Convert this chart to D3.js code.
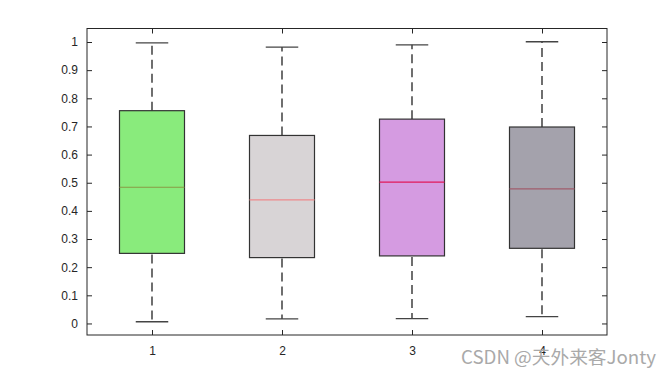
<!DOCTYPE html>
<html><head><meta charset="utf-8">
<script src="https://cdn.jsdelivr.net/npm/d3@7"></script>
<style>body{margin:0;background:#fff}svg{display:block}</style>
</head><body>
<svg id="c" width="672" height="378"></svg>
<script>
const categories = ["1","2","3","4"];
const whiskerLow  = [0.006, 0.016, 0.017, 0.024];
const q1          = [0.249, 0.234, 0.240, 0.267];
const median      = [0.484, 0.439, 0.502, 0.478];
const q3          = [0.756, 0.668, 0.726, 0.698];
const whiskerHigh = [0.997, 0.982, 0.990, 1.001];
const boxColors    = ["#89eb7c", "#d8d4d6", "#d59be1", "#a4a2ac"];
const medianColors = ["#8a9a45", "#ee8a8c", "#e0185a", "#a05c6c"];
const yTicks = [0,0.1,0.2,0.3,0.4,0.5,0.6,0.7,0.8,0.9,1];

const svg = d3.select("#c");
const L=87, R=607, T=28.5, B=335;
const x = d3.scaleLinear().domain([0.5,4.5]).range([L,R]);
const y = d3.scaleLinear().domain([-0.041,1.048]).range([B,T]);
const step = x(2)-x(1), bw = step/2, cw = step/4;

const g = svg.append("g");
categories.forEach((c,i)=>{
  const cx = x(i+1);
  g.append("line").attr("x1",cx).attr("x2",cx).attr("y1",y(q3[i])).attr("y2",y(whiskerHigh[i]))
    .attr("stroke","#222").attr("stroke-width",1.3).attr("stroke-dasharray","9,5");
  g.append("line").attr("x1",cx).attr("x2",cx).attr("y1",y(q1[i])+1).attr("y2",y(whiskerLow[i]))
    .attr("stroke","#222").attr("stroke-width",1.3).attr("stroke-dasharray","9,5");
  g.append("line").attr("x1",cx-cw/2).attr("x2",cx+cw/2).attr("y1",y(whiskerHigh[i])).attr("y2",y(whiskerHigh[i]))
    .attr("stroke","#444").attr("stroke-width",1.3);
  g.append("line").attr("x1",cx-cw/2).attr("x2",cx+cw/2).attr("y1",y(whiskerLow[i])).attr("y2",y(whiskerLow[i]))
    .attr("stroke","#444").attr("stroke-width",1.3);
  g.append("rect").attr("x",cx-bw/2).attr("y",y(q3[i])).attr("width",bw).attr("height",y(q1[i])-y(q3[i]))
    .attr("fill",boxColors[i]).attr("stroke","#333").attr("stroke-width",1.2);
  g.append("line").attr("x1",cx-bw/2).attr("x2",cx+bw/2).attr("y1",y(median[i])).attr("y2",y(median[i]))
    .attr("stroke",medianColors[i]).attr("stroke-width",1.2);
});

const font = "'Liberation Sans', Arial, sans-serif";
svg.append("rect").attr("x",L).attr("y",T).attr("width",R-L).attr("height",B-T)
  .attr("fill","none").attr("stroke","#262626").attr("stroke-width",1);
const yAxL = svg.append("g").attr("transform",`translate(${L},0)`)
  .call(d3.axisLeft(y).tickValues(yTicks).tickSizeInner(-5).tickSizeOuter(0).tickPadding(9).tickFormat(d3.format("~g")));
const yAxR = svg.append("g").attr("transform",`translate(${R},0)`)
  .call(d3.axisRight(y).tickValues(yTicks).tickSizeInner(-5).tickSizeOuter(0).tickFormat(""));
const xAxB = svg.append("g").attr("transform",`translate(0,${B})`)
  .call(d3.axisBottom(x).tickValues([1,2,3,4]).tickSizeInner(-5).tickSizeOuter(0).tickPadding(11).tickFormat((d,i)=>categories[i]));
const xAxT = svg.append("g").attr("transform",`translate(0,${T})`)
  .call(d3.axisTop(x).tickValues([1,2,3,4]).tickSizeInner(-5).tickSizeOuter(0).tickFormat(""));
[yAxL,yAxR,xAxB,xAxT].forEach(a=>{
  a.select(".domain").remove();
  a.selectAll("line").attr("stroke","#262626");
  a.selectAll("text").attr("fill","#262626").style("font-family",font).style("font-size","12px");
});

svg.append("text").attr("x",656).attr("y",364).attr("text-anchor","end")
  .attr("textLength",195).attr("lengthAdjust","spacingAndGlyphs")
  .style("font-family","'Noto Sans CJK SC', 'Liberation Sans', sans-serif").style("font-size","18px")
  .attr("fill","#a9a9a9").text("CSDN @天外来客Jonty");
</script>
</body></html>
